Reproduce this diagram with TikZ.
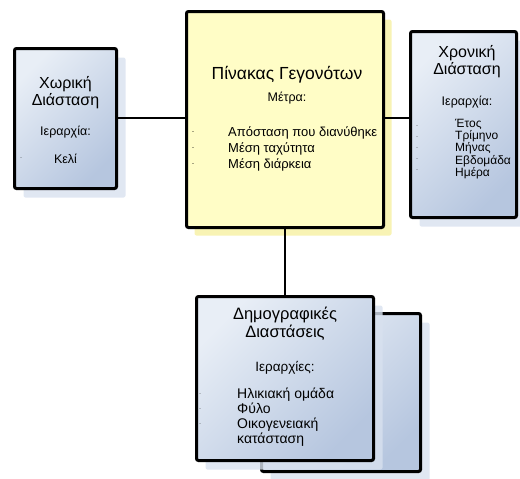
\documentclass[tikz,border=0pt]{standalone}
\usepackage{fontspec}
\setmainfont{Liberation Sans}
\usetikzlibrary{shadows}

\definecolor{dimlight}{HTML}{E8EEF6}
\definecolor{dimdark}{HTML}{B6C6DF}
\definecolor{dimshadow}{HTML}{D8E1EF}
\definecolor{factfill}{HTML}{FFFDC6}
\definecolor{factshadow}{HTML}{F8F3B4}

\begin{document}
\begin{tikzpicture}[x=1pt, y=-1pt,
  dimbox/.style={draw, line width=3pt, rounded corners=2pt,
    top color=dimlight, bottom color=dimdark, shading angle=45,
    drop shadow={shadow xshift=9pt, shadow yshift=-9pt, fill=dimshadow, opacity=0.8}},
  factbox/.style={draw, line width=3pt, rounded corners=2pt, fill=factfill,
    drop shadow={shadow xshift=8pt, shadow yshift=-8pt, fill=factshadow, opacity=1}},
  title/.style={font=\fontsize{16}{17}\selectfont, align=center},
  sub/.style={font=\fontsize{12.5}{12}\selectfont, align=center},
  items/.style={font=\fontsize{12}{12}\selectfont, align=left, anchor=west, inner sep=0pt},
  marks/.style={font=\fontsize{6}{12}\selectfont, align=left, inner sep=0pt},
  link/.style={line width=1.5pt}
]
\useasboundingbox (0,0) rectangle (520,479);

% Boxes
\node[factbox, minimum width=197pt, minimum height=216pt] (fact) at (285,119.5) {};
\node[dimbox, minimum width=102pt, minimum height=140pt] (space) at (65.5,118.5) {};
\node[dimbox, minimum width=106pt, minimum height=186pt] (time) at (463.5,124.5) {};
\node[dimbox, minimum width=159pt, minimum height=158pt] (demoback) at (341,392.5) {};
\node[dimbox, minimum width=177pt, minimum height=164pt] (demo) at (285,378.5) {};

% Connectors
\draw[link] (space.east |- 0,118) -- (fact.west |- 0,118);
\draw[link] (fact.east |- 0,118) -- (time.west |- 0,118);
\draw[link] (fact.south) -- (demo.north);

% Fact table
\node[title, font=\fontsize{17.5}{17}\selectfont] (facttitle) at (287,75) {Πίνακας Γεγονότων};
\node[sub] (factsub) at (287,98) {Μέτρα:};
\node[items, font=\fontsize{13}{16}\selectfont] (factlist) at (228,149)
  {Απόσταση που διανύθηκε\\Μέση ταχύτητα\\Μέση διάρκεια};
\node[marks, font=\fontsize{6}{16}\selectfont] (factmarks) at (193,149) {-\\-\\-};

% Space dimension
\node[title] (spacetitle) at (65.5,92.5) {Χωρική\\Διάσταση};
\node[sub] (spacesub) at (65.5,132) {Ιεραρχία:};
\node[sub] (spacelist) at (65.5,159) {Κελί};
\node[marks] (spacemarks) at (21,159) {·};

% Time dimension
\node[title] (timetitle) at (467,61.5) {Χρονική\\Διάσταση};
\node[sub] (timesub) at (467,102) {Ιεραρχία:};
\node[items, font=\fontsize{12}{11}\selectfont] (timelist) at (455,149)
  {Έτος\\Τρίμηνο\\Μήνας\\Εβδομάδα\\Ημέρα};
\node[marks, font=\fontsize{6}{11}\selectfont] (timemarks) at (417,149) {·\\·\\·\\·\\·};

% Demographic dimensions
\node[title, font=\fontsize{16.5}{18}\selectfont] (demotitle) at (285,324) {Δημογραφικές\\Διαστάσεις};
\node[sub, font=\fontsize{13.5}{12}\selectfont] (demosub) at (285,368) {Ιεραρχίες:};
\node[items, font=\fontsize{14}{15}\selectfont] (demolist) at (237,417)
  {Ηλικιακή ομάδα\\Φύλο\\Οικογενειακή\\κατάσταση};
\node[marks, font=\fontsize{6}{15}\selectfont] (demomarks) at (200,410) {·\\·\\·};

\end{tikzpicture}
\end{document}
